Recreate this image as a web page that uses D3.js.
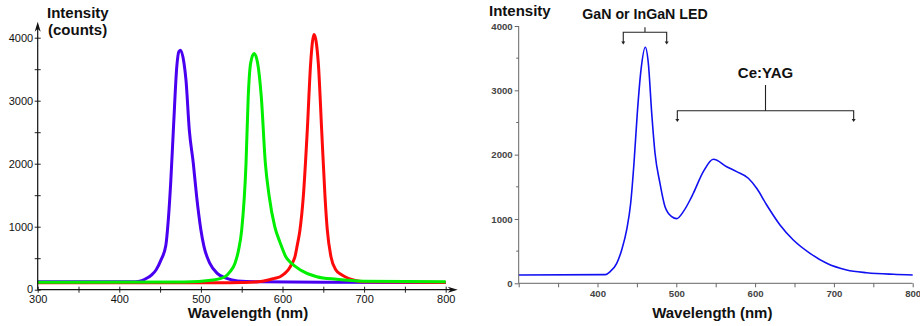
<!DOCTYPE html>
<html>
<head>
<meta charset="utf-8">
<script src="https://cdn.jsdelivr.net/npm/d3@7"></script>
<style>
  body { margin: 0; background: #fff; }
  svg { display: block; font-family: "Liberation Sans", Arial, Helvetica, sans-serif; }
</style>
</head>
<body>
<svg id="chart" width="920" height="326"></svg>
<script>
// ---- left panel: three LED spectra (wavelength nm, counts) ----
var blueWl  = [300, 420, 433.5, 440, 445, 451, 457, 460, 463, 466.5, 470.5, 473, 475.2, 479.3, 481.7, 485.8, 490.7, 494.8, 500, 503.8, 511, 520, 531.6, 545, 570, 650, 800];
var blueVal = [125, 125, 181, 240, 313, 470, 700, 1100, 1700, 2600, 3550, 3780, 3800, 3594, 3329, 2533, 2006, 1476, 948, 683, 419, 260, 181, 140, 125, 118, 115];

var greenWl  = [300, 480, 515, 529.5, 536, 541.8, 546, 550, 555.3, 558, 561, 565.2, 569.5, 574, 579, 583.5, 590.5, 597, 604, 611, 622, 642, 666, 700, 800];
var greenVal = [120, 122, 154, 206, 290, 419, 620, 948, 2006, 3063, 3600, 3750, 3600, 3063, 2006, 1500, 1000, 750, 524, 419, 313, 206, 165, 135, 125];

var redWl  = [300, 520, 550, 570, 582.6, 590, 597, 602, 607, 611, 615.3, 618, 621.4, 625.5, 630.4, 634.5, 638.6, 643.9, 648, 652.1, 654.9, 659.4, 665.5, 671, 676.6, 686.8, 700, 800];
var redVal = [110, 110, 115, 125, 154, 180, 206, 250, 313, 400, 524, 700, 948, 1476, 2535, 3594, 4050, 3594, 2535, 1476, 948, 524, 313, 250, 206, 154, 125, 115];

// ---- right panel: white LED (blue chip + Ce:YAG phosphor) ----
var whiteWl  = [300, 410, 415.9, 424.4, 430.7, 437, 442.1, 446.3, 450.5, 455.2, 460.7, 464.5, 468.8, 473, 479.3, 485.7, 494.2, 500.5, 508.9, 517.4, 521.6, 534.3, 547, 564, 576.6, 591.4, 602, 614.7, 631.6, 648.5, 669.7, 690.9, 716.2, 741.6, 775.4, 800];
var whiteVal = [129, 135, 180, 311, 518, 829, 1244, 1866, 2644, 3317, 3670, 3421, 2644, 2022, 1555, 1191, 1036, 1005, 1114, 1295, 1400, 1736, 1928, 1813, 1736, 1633, 1477, 1218, 907, 673, 466, 311, 207, 165, 140, 130];

var yTicks = [0, 1000, 2000, 3000, 4000];
var yMinor = [500, 1500, 2500, 3500];
var xTicks = [300, 350, 400, 450, 500, 550, 600, 650, 700, 750, 800];

var svg = d3.select("#chart");

// drop the blank labels of minor ticks
function dropBlank(axisG) {
  axisG.selectAll(".tick text").filter(function() { return this.textContent === ""; }).remove();
}

// ================= LEFT =================
var xL = d3.scaleLinear().domain([300, 800]).range([37.7, 445.7]);
var yL = d3.scaleLinear().domain([0, 4000]).range([289.7, 37.7]);

var left = svg.append("g");

var lineL = d3.line()
  .x(function(d) { return xL(d[0]); })
  .y(function(d) { return yL(d[1]); })
  .curve(d3.curveMonotoneX);

var spectra = [
  { wl: blueWl, val: blueVal, color: "#4a00f0" },
  { wl: redWl, val: redVal, color: "#ff0a0a" },
  { wl: greenWl, val: greenVal, color: "#00ee00" }
];

spectra.forEach(function(s) {
  left.append("path")
    .datum(d3.zip(s.wl, s.val))
    .attr("fill", "none")
    .attr("stroke", s.color)
    .attr("stroke-width", 3)
    .attr("stroke-linejoin", "round")
    .attr("d", lineL);
});

// x axis (ticks cross the line)
var axL = left.append("g")
  .attr("transform", "translate(0," + yL(0) + ")")
  .call(d3.axisBottom(xL).tickValues(xTicks).tickSize(3).tickPadding(2.5)
    .tickFormat(function(d) { return d % 100 === 0 ? d : ""; }));
axL.select(".domain").remove();
dropBlank(axL);
axL.selectAll(".tick line").attr("y1", -3).attr("y2", 3).attr("stroke", "#222");
axL.selectAll("text").attr("font-size", 11).attr("fill", "#111");

var ayL = left.append("g")
  .attr("transform", "translate(" + xL(300) + ",0)")
  .call(d3.axisLeft(yL).tickValues(yTicks.concat(yMinor)).tickSize(3).tickPadding(1.5)
    .tickFormat(function(d) { return d % 1000 === 0 ? d : ""; }));
ayL.select(".domain").remove();
dropBlank(ayL);
ayL.selectAll(".tick line").attr("x1", -3).attr("x2", 3).attr("stroke", "#222");
ayL.selectAll("text").attr("font-size", 11).attr("fill", "#111");
ayL.selectAll("text").filter(function(d) { return d === 0; }).attr("dy", "0.22em");

// axis lines with arrow heads
left.append("line")
  .attr("x1", xL(300)).attr("x2", xL(800) + 6)
  .attr("y1", yL(0)).attr("y2", yL(0))
  .attr("stroke", "#111").attr("stroke-width", 1.2);
left.append("line")
  .attr("x1", xL(300)).attr("x2", xL(300))
  .attr("y1", yL(0)).attr("y2", yL(4000) - 12)
  .attr("stroke", "#111").attr("stroke-width", 1.2);

var ax = xL(800) + 12, ay = yL(0);
left.append("path")
  .attr("d", "M" + ax + "," + ay + "L" + (ax - 10) + "," + (ay - 3) + "L" + (ax - 7) + "," + ay + "L" + (ax - 10) + "," + (ay + 3) + "Z")
  .attr("fill", "#111");
var bx = xL(300), by = yL(4000) - 16;
left.append("path")
  .attr("d", "M" + bx + "," + by + "L" + (bx - 3) + "," + (by + 10) + "L" + bx + "," + (by + 7) + "L" + (bx + 3) + "," + (by + 10) + "Z")
  .attr("fill", "#111");

left.append("text")
  .attr("x", 47).attr("y", 18)
  .attr("font-size", 15).attr("font-weight", "bold").attr("fill", "#111")
  .text("Intensity");
left.append("text")
  .attr("x", 48).attr("y", 35)
  .attr("font-size", 15).attr("font-weight", "bold").attr("fill", "#111")
  .text("(counts)");
left.append("text")
  .attr("x", 248).attr("y", 318)
  .attr("text-anchor", "middle")
  .attr("font-size", 15).attr("font-weight", "bold").attr("fill", "#111")
  .text("Wavelength (nm)");

// ================= RIGHT =================
var xR = d3.scaleLinear().domain([300, 800]).range([518.7, 912.7]);
var yR = d3.scaleLinear().domain([0, 4000]).range([283.3, 26]);

var right = svg.append("g");

var lineR = d3.line()
  .x(function(d) { return xR(d[0]); })
  .y(function(d) { return yR(d[1]); })
  .curve(d3.curveMonotoneX);

right.append("path")
  .datum(d3.zip(whiteWl, whiteVal))
  .attr("fill", "none")
  .attr("stroke", "#1010f0")
  .attr("stroke-width", 1.6)
  .attr("d", lineR);

var axR = right.append("g")
  .attr("transform", "translate(0," + yR(0) + ")")
  .call(d3.axisBottom(xR).tickValues(xTicks).tickSize(4).tickPadding(2.6)
    .tickFormat(function(d) { return (d % 100 === 0 && d > 300) ? d : ""; }));
axR.select(".domain").attr("stroke", "#666").attr("d", "M" + xR(300) + ",0H" + xR(800));
dropBlank(axR);
axR.selectAll(".tick line").attr("stroke", "#666");
axR.selectAll("text").attr("font-size", 9.6).attr("font-weight", "bold").attr("fill", "#444");

var ayR = right.append("g")
  .attr("transform", "translate(" + xR(300) + ",0)")
  .call(d3.axisLeft(yR).tickValues(yTicks).tickSize(4).tickPadding(2).tickFormat(d3.format("d")));
ayR.select(".domain").attr("stroke", "#666").attr("d", "M0," + yR(0) + "V" + yR(4000));
ayR.selectAll(".tick line").attr("stroke", "#666");
ayR.selectAll("text").attr("font-size", 9.6).attr("font-weight", "bold").attr("fill", "#444");

right.append("g").selectAll("line")
  .data(yMinor)
  .enter().append("line")
  .attr("x1", xR(300) - 2.5).attr("x2", xR(300))
  .attr("y1", function(d) { return yR(d); }).attr("y2", function(d) { return yR(d); })
  .attr("stroke", "#666");

right.append("text")
  .attr("x", 489).attr("y", 16)
  .attr("font-size", 15).attr("font-weight", "bold").attr("fill", "#111")
  .text("Intensity");
right.append("text")
  .attr("x", 712.3).attr("y", 318)
  .attr("text-anchor", "middle")
  .attr("font-size", 15).attr("font-weight", "bold").attr("fill", "#111")
  .text("Wavelength (nm)");

// annotation brackets
function bracket(g, w0, w1, yBar, yStub, yEnd, label, labelY, labelSize) {
  var x0 = xR(w0), x1 = xR(w1), xc = (x0 + x1) / 2;
  g.append("path")
    .attr("d", "M" + x0 + "," + (yEnd - 2) + "V" + yBar + "H" + x1 + "V" + (yEnd - 2) + "M" + xc + "," + yBar + "V" + yStub)
    .attr("fill", "none").attr("stroke", "#222").attr("stroke-width", 1.1);
  [x0, x1].forEach(function(x) {
    g.append("path")
      .attr("d", "M" + (x - 2) + "," + (yEnd - 3) + "L" + (x + 2) + "," + (yEnd - 3) + "L" + x + "," + yEnd + "Z")
      .attr("fill", "#222");
  });
  g.append("text")
    .attr("x", xc).attr("y", labelY)
    .attr("text-anchor", "middle")
    .attr("font-size", labelSize).attr("font-weight", "bold").attr("fill", "#111")
    .text(label);
}

bracket(right, 432.7, 487.8, 32.3, 27.3, 44.5, "GaN or InGaN LED", 19.3, 14.2);
bracket(right, 501.3, 725.1, 110.7, 85, 122, "Ce:YAG", 78.3, 15);
</script>
</body>
</html>
